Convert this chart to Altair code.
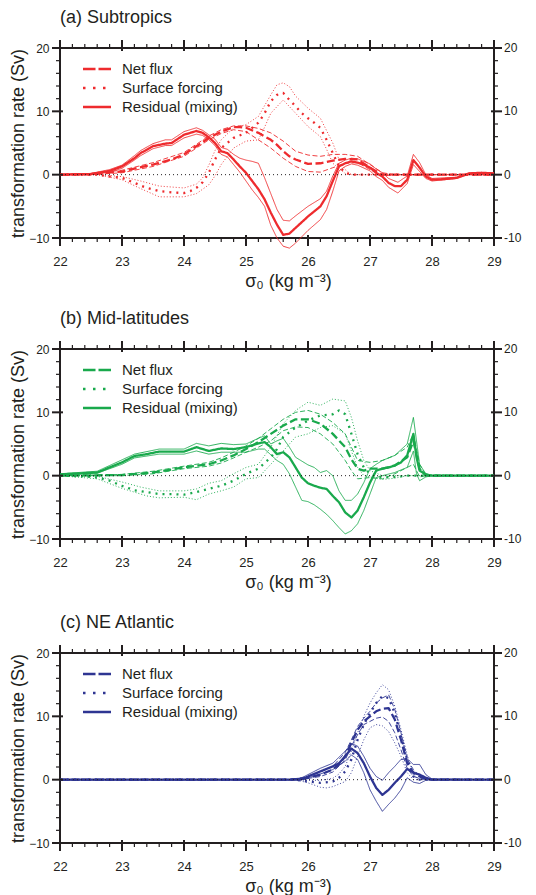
import altair as alt
import pandas as pd

FONT = "Liberation Sans"
INK = "#231f20"
W, H = 434, 190

X_MAJOR = [22, 23, 24, 25, 26, 27, 28, 29]
X_MINOR = [22.2, 22.4, 22.6, 22.8, 23.2, 23.4, 23.6, 23.8, 24.2, 24.4, 24.6, 24.8,
           25.2, 25.4, 25.6, 25.8, 26.2, 26.4, 26.6, 26.8, 27.2, 27.4, 27.6, 27.8,
           28.2, 28.4, 28.6, 28.8]
Y_MAJOR = [-10, 0, 10, 20]
Y_LABELS = ["-10", "0", "10", "20"]
Y_MINOR = [-8, -6, -4, -2, 2, 4, 6, 8, 12, 14, 16, 18]
LEGEND_LABELS = ["Net flux", "Surface forcing", "Residual (mixing)"]
TITLES = ["(a) Subtropics", "(b) Mid-latitudes", "(c) NE Atlantic"]
COLORS = ["#ee2b2e", "#19a94c", "#2e3592"]

# ---------- (a) Subtropics ----------
A_NET = [(22, 0), (22.5, 0.1), (23.0, 0.5), (23.5, 1.6), (23.8, 2.4), (24.0, 3.2), (24.2, 4.5),
         (24.4, 5.8), (24.6, 6.8), (24.8, 7.5), (24.9, 7.5), (25.0, 7.4), (25.2, 6.6), (25.4, 5.5),
         (25.5, 4.7), (25.6, 3.7), (25.7, 2.9), (25.8, 2.4), (26.0, 1.7), (26.2, 1.8), (26.4, 2.2),
         (26.6, 2.5), (26.8, 2.4), (27.0, 1.1), (27.2, 0.0), (29.0, 0.0)]
A_NET_HI = [(22, 0), (22.5, 0.2), (23.0, 0.7), (23.5, 1.9), (24.0, 3.5), (24.4, 6.1), (24.6, 7.1),
            (24.8, 7.7), (25.0, 7.7), (25.2, 7.3), (25.4, 6.6), (25.6, 5.3), (25.8, 3.7), (26.0, 3.1),
            (26.2, 2.9), (26.4, 3.2), (26.6, 3.2), (26.8, 2.9), (27.0, 1.6), (27.2, 0.3), (27.4, 0.0),
            (29.0, 0.0)]
A_NET_LO = [(22, 0), (22.5, 0.0), (23.0, 0.3), (23.5, 1.3), (24.0, 2.9), (24.4, 5.5), (24.6, 6.5),
            (24.8, 7.1), (25.0, 6.8), (25.2, 5.5), (25.4, 4.2), (25.6, 2.6), (25.8, 1.3), (26.0, 0.5),
            (26.2, 0.4), (26.4, 1.1), (26.6, 1.8), (26.8, 1.9), (27.0, 0.8), (27.2, -0.2), (27.4, 0.0),
            (29.0, 0.0)]
A_SURF = [(22, 0), (22.6, 0.0), (22.8, -0.3), (23.0, -0.5), (23.2, -1.3), (23.4, -2.1), (23.6, -2.6),
          (23.8, -2.8), (24.0, -2.9), (24.1, -2.6), (24.2, -2.1), (24.3, -1.2), (24.4, 0.3), (24.5, 2.4),
          (24.6, 4.2), (24.8, 5.8), (25.0, 6.6), (25.1, 7.4), (25.2, 8.2), (25.3, 9.7), (25.4, 11.6),
          (25.5, 12.6), (25.6, 12.9), (25.7, 11.8), (25.8, 10.8), (25.9, 9.7), (26.0, 8.9), (26.1, 8.2),
          (26.2, 7.4), (26.3, 5.5), (26.4, 3.4), (26.5, 1.3), (26.6, 0.3), (26.7, 0.0), (29.0, 0.0)]
A_SURF_HI = [(22, 0), (22.6, 0.0), (23.0, -0.3), (23.3, -1.0), (23.6, -1.8), (24.0, -2.1), (24.2, -1.5),
             (24.3, -0.5), (24.4, 1.5), (24.5, 3.8), (24.6, 5.5), (24.8, 7.4), (25.0, 7.9), (25.2, 9.2),
             (25.4, 12.6), (25.5, 14.2), (25.6, 14.5), (25.7, 13.9), (25.8, 12.4), (26.0, 10.5),
             (26.2, 8.9), (26.4, 5.0), (26.5, 2.4), (26.6, 0.8), (26.7, 0.0), (29.0, 0.0)]
A_SURF_LO = [(22, 0), (22.6, 0.0), (23.0, -0.8), (23.3, -2.2), (23.6, -3.5), (24.0, -3.5), (24.2, -3.0),
             (24.4, -1.6), (24.5, -0.2), (24.6, 1.6), (24.8, 4.2), (25.0, 5.3), (25.2, 5.5), (25.3, 7.5),
             (25.4, 9.7), (25.6, 11.8), (25.8, 9.7), (26.0, 7.6), (26.2, 6.0), (26.3, 4.0), (26.4, 1.8),
             (26.6, 0.2), (26.7, 0.0), (29.0, 0.0)]
A_RES = [(22, 0), (22.5, 0.1), (22.8, 0.6), (23.0, 1.3), (23.2, 2.6), (23.3, 3.4), (23.5, 4.5),
         (23.7, 4.9), (23.8, 5.0), (24.0, 6.3), (24.2, 6.9), (24.3, 6.6), (24.4, 5.9), (24.5, 5.0),
         (24.6, 3.7), (24.7, 3.4), (24.8, 2.4), (24.9, 1.3), (25.0, 0.3), (25.1, -1.0), (25.2, -2.3),
         (25.3, -3.9), (25.4, -6.0), (25.5, -7.9), (25.6, -9.5), (25.7, -9.3), (25.8, -8.4), (26.0, -6.6),
         (26.2, -5.0), (26.3, -3.4), (26.4, -1.0), (26.5, 1.3), (26.6, 1.8), (26.7, 2.1), (26.8, 1.9),
         (26.9, 1.6), (27.0, 1.1), (27.1, 0.3), (27.2, -0.3), (27.3, -1.3), (27.4, -1.8), (27.5, -1.8),
         (27.6, -0.8), (27.7, 2.3), (27.8, 1.1), (27.9, -0.3), (28.0, -0.8), (28.2, -0.7), (28.4, -0.5),
         (28.6, 0.2), (28.8, 0.3), (29.0, 0.2)]
A_RES_HI = [(22, 0), (22.5, 0.2), (22.8, 0.8), (23.0, 1.5), (23.2, 3.0), (23.3, 3.8), (23.5, 4.9),
            (23.7, 5.5), (23.8, 5.5), (24.0, 6.8), (24.2, 7.4), (24.3, 7.0), (24.4, 6.3), (24.5, 5.6),
            (24.6, 4.3), (24.7, 4.0), (24.8, 3.2), (24.9, 2.6), (25.0, 2.3), (25.1, 2.1), (25.2, 1.8),
            (25.3, -0.5), (25.4, -3.0), (25.5, -5.5), (25.6, -7.2), (25.7, -7.3), (25.8, -6.5),
            (26.0, -5.0), (26.2, -3.8), (26.3, -2.6), (26.4, -0.2), (26.5, 1.8), (26.6, 2.3), (26.7, 2.6),
            (26.8, 2.5), (27.0, 1.7), (27.1, 0.9), (27.2, 0.3), (27.3, -0.6), (27.45, -1.2), (27.6, -0.2),
            (27.7, 3.2), (27.8, 1.9), (27.9, 0.0), (28.0, -0.6), (28.4, -0.4), (28.6, 0.3), (29.0, 0.3)]
A_RES_LO = [(22, 0), (22.5, 0.0), (22.8, 0.4), (23.0, 1.0), (23.2, 2.3), (23.3, 3.0), (23.5, 4.1),
            (23.7, 4.6), (23.8, 4.6), (24.0, 5.8), (24.2, 6.4), (24.3, 6.2), (24.4, 5.5), (24.5, 4.6),
            (24.6, 3.2), (24.7, 2.8), (24.8, 1.6), (24.9, 0.4), (25.0, -1.0), (25.1, -2.4), (25.2, -3.6),
            (25.3, -5.0), (25.4, -8.0), (25.5, -10.0), (25.6, -11.3), (25.7, -11.6), (25.8, -10.8),
            (25.9, -9.8), (26.0, -8.8), (26.2, -7.1), (26.3, -5.5), (26.4, -2.6), (26.5, 0.6), (26.6, 1.3),
            (26.7, 1.7), (26.8, 1.5), (27.0, 0.6), (27.1, -0.3), (27.2, -0.9), (27.3, -2.0), (27.45, -2.9),
            (27.6, -1.4), (27.7, 1.6), (27.8, 0.5), (27.9, -0.6), (28.0, -1.0), (28.4, -0.6), (28.6, 0.1),
            (29.0, 0.1)]

# ---------- (b) Mid-latitudes ----------
B_NET = [(22, 0.0), (23.0, 0.1), (23.5, 0.5), (24.0, 1.3), (24.4, 1.8), (24.6, 2.4), (24.8, 3.2),
         (25.0, 4.2), (25.2, 5.3), (25.4, 6.6), (25.6, 7.9), (25.8, 8.9), (26.0, 8.9), (26.2, 8.2),
         (26.4, 6.6), (26.6, 4.5), (26.7, 2.6), (26.8, 1.1), (26.9, 0.8), (27.0, 1.1), (27.2, 1.1),
         (27.4, 1.6), (27.6, 2.9), (27.7, 5.5), (27.8, 1.1), (27.9, 0.0), (29.0, 0.0)]
B_NET_HI = [(22, 0.0), (23.0, 0.2), (23.5, 0.7), (24.0, 1.5), (24.4, 2.1), (24.6, 2.8), (24.8, 3.7),
            (25.0, 4.7), (25.2, 5.9), (25.4, 7.4), (25.6, 8.9), (25.8, 10.0), (26.0, 10.3), (26.2, 9.7),
            (26.4, 8.4), (26.6, 6.6), (26.7, 4.5), (26.8, 2.4), (27.0, 2.1), (27.2, 2.4), (27.4, 3.2),
            (27.6, 4.5), (27.7, 6.6), (27.8, 1.8), (27.9, 0.1), (29.0, 0.0)]
B_NET_LO = [(22, 0.0), (23.0, 0.0), (23.5, 0.3), (24.0, 1.1), (24.4, 1.5), (24.6, 2.0), (24.8, 2.8),
            (25.0, 3.7), (25.2, 4.5), (25.4, 5.5), (25.6, 7.1), (25.8, 7.7), (26.0, 7.6), (26.2, 6.6),
            (26.4, 5.0), (26.6, 2.4), (26.7, 0.8), (26.8, -0.5), (27.0, -0.3), (27.2, -0.5), (27.4, 0.3),
            (27.6, 1.3), (27.7, 1.8), (27.8, -0.2), (27.9, 0.0), (29.0, 0.0)]
B_SURF = [(22, 0.0), (22.4, -0.1), (22.6, -0.3), (22.8, -0.8), (23.0, -1.6), (23.2, -2.3), (23.4, -2.6),
          (23.6, -2.9), (23.8, -2.9), (24.0, -3.0), (24.2, -2.6), (24.4, -2.1), (24.6, -1.6), (24.8, -0.8),
          (25.0, 0.3), (25.2, 1.1), (25.4, 2.9), (25.5, 4.2), (25.6, 6.1), (25.8, 7.6), (26.0, 8.7),
          (26.2, 9.5), (26.4, 9.7), (26.5, 10.3), (26.6, 9.7), (26.7, 6.6), (26.8, 3.4), (26.9, 1.3),
          (27.0, 0.3), (27.2, -0.3), (27.4, -0.2), (27.6, 0.0), (29.0, 0.0)]
B_SURF_HI = [(22, 0.0), (22.6, -0.1), (23.0, -1.0), (23.3, -1.8), (23.6, -2.4), (24.0, -2.4), (24.2, -2.1),
             (24.4, -1.2), (24.6, -0.8), (24.8, 0.3), (25.0, 1.3), (25.2, 1.8), (25.4, 4.5), (25.6, 8.2),
             (25.8, 10.3), (26.0, 11.6), (26.2, 11.1), (26.4, 12.1), (26.6, 11.8), (26.7, 9.2), (26.8, 5.5),
             (26.9, 2.4), (27.0, 0.8), (27.2, 0.0), (29.0, 0.0)]
B_SURF_LO = [(22, 0.0), (22.6, -0.5), (23.0, -2.0), (23.4, -3.2), (23.6, -3.5), (24.0, -3.4), (24.2, -3.8),
             (24.4, -2.9), (24.6, -2.4), (24.8, -1.8), (25.0, -0.5), (25.2, -0.3), (25.4, 1.8), (25.6, 3.9),
             (25.8, 6.1), (26.0, 6.6), (26.2, 7.6), (26.4, 7.9), (26.6, 6.6), (26.7, 3.9), (26.8, 1.3),
             (26.9, 0.0), (27.2, -0.6), (27.4, -0.4), (27.6, 0.0), (29.0, 0.0)]
B_RES = [(22, 0.2), (22.6, 0.5), (22.8, 1.3), (23.0, 2.1), (23.2, 3.1), (23.4, 3.4), (23.6, 3.8),
         (24.0, 3.8), (24.2, 4.5), (24.4, 3.9), (24.6, 4.3), (24.8, 4.2), (25.0, 4.5), (25.2, 5.1),
         (25.3, 5.3), (25.4, 4.5), (25.5, 3.4), (25.6, 3.7), (25.7, 2.9), (25.8, 1.3), (25.9, -0.3),
         (26.0, -1.2), (26.1, -1.6), (26.2, -1.9), (26.3, -2.1), (26.4, -3.2), (26.5, -4.2), (26.6, -5.8),
         (26.7, -6.6), (26.8, -5.5), (26.9, -3.4), (27.0, -1.1), (27.1, 0.8), (27.2, 1.1), (27.3, 1.3),
         (27.4, 1.6), (27.5, 2.1), (27.6, 3.2), (27.7, 6.6), (27.75, 2.9), (27.8, 0.8), (27.9, 0.2),
         (28.0, 0.0), (29.0, 0.0)]
B_RES_HI = [(22, 0.3), (22.6, 0.7), (22.8, 1.6), (23.0, 2.5), (23.2, 3.4), (23.6, 4.2), (24.0, 4.2),
            (24.2, 5.1), (24.4, 4.7), (24.6, 5.1), (24.8, 4.9), (25.0, 5.0), (25.2, 5.9), (25.3, 6.3),
            (25.4, 5.0), (25.5, 5.5), (25.6, 5.9), (25.7, 4.5), (25.8, 2.9), (26.0, 1.7), (26.1, 1.3),
            (26.2, 0.5), (26.3, 0.8), (26.4, 0.0), (26.5, -2.4), (26.6, -3.9), (26.7, -3.9), (26.8, -2.9),
            (26.9, -1.1), (27.0, 1.1), (27.1, 1.8), (27.2, 2.4), (27.4, 3.2), (27.6, 5.0), (27.7, 9.2),
            (27.75, 5.5), (27.8, 1.8), (27.9, 0.3), (28.0, 0.0), (29.0, 0.0)]
B_RES_LO = [(22, 0.1), (22.6, 0.4), (22.8, 1.1), (23.0, 1.8), (23.2, 2.8), (23.6, 3.4), (24.0, 3.4),
            (24.2, 3.9), (24.4, 3.4), (24.6, 3.7), (24.8, 3.7), (25.0, 3.7), (25.2, 4.2), (25.3, 4.2),
            (25.4, 3.3), (25.5, 2.4), (25.6, 1.8), (25.7, 0.3), (25.8, -1.8), (25.9, -3.9), (26.0, -4.1),
            (26.1, -4.6), (26.2, -5.3), (26.3, -6.1), (26.4, -7.1), (26.5, -8.2), (26.6, -9.2), (26.7, -8.7),
            (26.8, -7.6), (26.9, -5.5), (27.0, -2.9), (27.1, -0.3), (27.2, 0.0), (27.4, 0.5), (27.6, 1.3),
            (27.7, 3.9), (27.75, 0.3), (27.8, -0.8), (27.9, -0.2), (28.0, 0.0), (29.0, 0.0)]

# ---------- (c) NE Atlantic ----------
C_NET = [(22, 0.0), (25.7, 0.0), (25.9, 0.1), (26.0, 0.3), (26.2, 0.8), (26.4, 1.6), (26.5, 2.4),
         (26.6, 3.7), (26.7, 5.8), (26.8, 7.9), (26.9, 9.2), (27.0, 10.0), (27.1, 10.8), (27.2, 11.2),
         (27.3, 11.3), (27.4, 9.5), (27.5, 6.3), (27.6, 2.6), (27.7, 1.1), (27.8, 0.5), (27.9, 0.1),
         (28.0, 0.0), (29.0, 0.0)]
C_NET_HI = [(22, 0.0), (25.7, 0.0), (26.0, 0.5), (26.2, 1.2), (26.4, 2.1), (26.6, 4.3), (26.7, 6.3),
            (26.8, 8.4), (26.9, 9.7), (27.0, 10.8), (27.1, 12.1), (27.2, 12.9), (27.3, 13.4), (27.4, 11.1),
            (27.5, 7.4), (27.6, 3.2), (27.7, 1.6), (27.8, 0.6), (28.0, 0.0), (29.0, 0.0)]
C_NET_LO = [(22, 0.0), (25.7, 0.0), (26.0, 0.2), (26.2, 0.5), (26.4, 1.2), (26.6, 3.1), (26.7, 5.3),
            (26.8, 7.1), (26.9, 8.7), (27.0, 9.2), (27.1, 9.7), (27.2, 9.9), (27.3, 9.2), (27.4, 7.4),
            (27.5, 4.7), (27.6, 1.8), (27.7, 0.5), (27.8, 0.2), (28.0, 0.0), (29.0, 0.0)]
C_SURF = [(22, 0.0), (25.8, 0.0), (26.0, -0.3), (26.2, -0.5), (26.4, -0.3), (26.5, 0.3), (26.6, 1.3),
          (26.7, 3.2), (26.8, 6.3), (26.9, 8.7), (27.0, 10.5), (27.1, 12.1), (27.2, 13.2), (27.3, 12.9),
          (27.4, 10.5), (27.5, 6.8), (27.6, 3.2), (27.7, 0.5), (27.8, 0.0), (29.0, 0.0)]
C_SURF_HI = [(22, 0.0), (25.8, 0.0), (26.0, -0.1), (26.2, -0.1), (26.4, 0.2), (26.5, 0.9), (26.6, 2.1),
             (26.7, 4.5), (26.8, 7.4), (26.9, 10.0), (27.0, 12.1), (27.1, 13.7), (27.2, 15.0), (27.3, 14.2),
             (27.4, 11.6), (27.5, 7.9), (27.6, 3.9), (27.7, 0.8), (27.8, 0.0), (29.0, 0.0)]
C_SURF_LO = [(22, 0.0), (25.8, 0.0), (26.0, -0.5), (26.2, -1.2), (26.3, -1.3), (26.4, -1.1), (26.6, -0.3),
             (26.7, 1.1), (26.8, 3.7), (26.9, 6.3), (27.0, 8.2), (27.1, 8.7), (27.2, 8.5), (27.3, 7.6),
             (27.4, 5.8), (27.5, 3.7), (27.6, 1.1), (27.7, 0.0), (29.0, 0.0)]
C_RES = [(22, 0.0), (25.7, 0.0), (25.9, 0.1), (26.0, 0.5), (26.2, 1.3), (26.4, 2.1), (26.5, 2.6),
         (26.6, 3.7), (26.7, 4.9), (26.8, 4.2), (26.9, 2.6), (27.0, 0.5), (27.1, -1.3), (27.2, -2.4),
         (27.3, -1.6), (27.4, -0.5), (27.5, 0.5), (27.6, 1.7), (27.7, 1.1), (27.8, 0.8), (27.9, 0.3),
         (28.0, 0.0), (29.0, 0.0)]
C_RES_HI = [(22, 0.0), (25.7, 0.0), (25.9, 0.3), (26.0, 0.8), (26.2, 1.8), (26.4, 2.6), (26.6, 4.5),
            (26.7, 5.7), (26.8, 5.3), (26.9, 3.7), (27.0, 1.8), (27.1, 0.5), (27.2, -0.1), (27.3, 1.1),
            (27.4, 2.1), (27.5, 3.2), (27.6, 3.3), (27.7, 2.4), (27.8, 2.4), (27.9, 0.8), (28.0, 0.1),
            (29.0, 0.0)]
C_RES_LO = [(22, 0.0), (25.7, 0.0), (25.9, 0.0), (26.0, 0.3), (26.2, 0.9), (26.4, 1.6), (26.6, 2.9),
            (26.7, 3.9), (26.8, 3.2), (26.9, 1.1), (27.0, -1.6), (27.1, -3.4), (27.2, -5.0), (27.3, -3.9),
            (27.4, -2.9), (27.5, -1.6), (27.6, 0.3), (27.7, -0.4), (27.8, -0.6), (27.9, -0.1), (28.0, 0.0),
            (29.0, 0.0)]

PANEL_DATA = [
    [A_NET, A_NET_HI, A_NET_LO, A_SURF, A_SURF_HI, A_SURF_LO, A_RES, A_RES_HI, A_RES_LO],
    [B_NET, B_NET_HI, B_NET_LO, B_SURF, B_SURF_HI, B_SURF_LO, B_RES, B_RES_HI, B_RES_LO],
    [C_NET, C_NET_HI, C_NET_LO, C_SURF, C_SURF_HI, C_SURF_LO, C_RES, C_RES_HI, C_RES_LO],
]
LINE_NAMES = ["net", "net_hi", "net_lo", "surf", "surf_hi", "surf_lo", "res", "res_hi", "res_lo"]
LINE_STYLES = ["net_c", "net_b", "net_b", "surf_c", "surf_b", "surf_b", "res_c", "res_b", "res_b"]

STYLE = {
    "net_c": dict(strokeWidth=2.3, strokeDash=[8, 3.5]),
    "net_b": dict(strokeWidth=0.9, strokeDash=[5, 2.5]),
    "surf_c": dict(strokeWidth=2.3, strokeDash=[2, 5]),
    "surf_b": dict(strokeWidth=0.9, strokeDash=[1, 2]),
    "res_c": dict(strokeWidth=2.3, strokeDash=[1, 0]),
    "res_b": dict(strokeWidth=0.9, strokeDash=[1, 0]),
}
LEGEND_DASH = [[12.5, 3], [2.5, 7.5], [1, 0]]

xscale = alt.Scale(domain=[22, 29], nice=False, zero=False)
yscale = alt.Scale(domain=[-10, 20], nice=False, zero=False)

X_AXIS = alt.Axis(
    values=X_MAJOR, format="d", title="σ₀  (kg m⁻³)", ticks=False, domain=False,
    grid=False, labelFontSize=13, labelPadding=17, labelFlush=False, labelColor=INK,
    titleFontSize=18, titleFontWeight="normal", titlePadding=4, titleColor=INK,
    titleX=228, titleAlign="center", labelFont=FONT, titleFont=FONT)
Y_AXIS = alt.Axis(
    values=Y_MAJOR, format="d", title="transformation rate (Sv)", ticks=False,
    domain=False, grid=False, labelFontSize=12, labelPadding=11, labelFlush=False,
    labelColor=INK, titleFontSize=18, titleFontWeight="normal", titlePadding=1,
    titleColor=INK, labelFont=FONT, titleFont=FONT)


def make_panel(title, color, series):
    rows = []
    for name, style, pts in zip(LINE_NAMES, LINE_STYLES, series):
        for x, y in pts:
            rows.append({"x": x, "y": y, "line": name, "style": style})
    df = pd.DataFrame(rows)

    layers = []
    for style in ["surf_b", "net_b", "res_b", "surf_c", "net_c", "res_c"]:
        sub = df[df["style"] == style]
        layers.append(
            alt.Chart(sub).mark_line(color=color, strokeCap="butt", strokeJoin="round", **STYLE[style])
            .encode(x=alt.X("x:Q", scale=xscale, axis=X_AXIS),
                    y=alt.Y("y:Q", scale=yscale, axis=Y_AXIS),
                    detail="line:N", order="x:Q")
        )
    # zero line
    layers.append(
        alt.Chart(pd.DataFrame({"y": [0]})).mark_rule(color=INK, strokeDash=[1, 3], strokeWidth=1)
        .encode(y=alt.Y("y:Q", scale=yscale, axis=Y_AXIS))
    )

    # ticks
    xmaj = pd.DataFrame({"x": X_MAJOR})
    xmin = pd.DataFrame({"x": X_MINOR})
    ymaj = pd.DataFrame({"y": Y_MAJOR, "lab": Y_LABELS})
    ymin = pd.DataFrame({"y": Y_MINOR})
    xs = alt.X("x:Q", scale=xscale, axis=X_AXIS)
    ys = alt.Y("y:Q", scale=yscale, axis=Y_AXIS)
    layers += [
        alt.Chart(xmaj).mark_rule(color=INK, strokeWidth=2).encode(x=xs, y=alt.value(H - 3), y2=alt.value(H + 8)),
        alt.Chart(xmaj).mark_rule(color=INK, strokeWidth=2).encode(x=xs, y=alt.value(-8), y2=alt.value(3)),
        alt.Chart(xmin).mark_rule(color=INK, strokeWidth=1.2).encode(x=xs, y=alt.value(H), y2=alt.value(H + 4)),
        alt.Chart(xmin).mark_rule(color=INK, strokeWidth=1.2).encode(x=xs, y=alt.value(-4), y2=alt.value(0)),
        alt.Chart(ymaj).mark_rule(color=INK, strokeWidth=2).encode(y=ys, x=alt.value(-8), x2=alt.value(3)),
        alt.Chart(ymaj).mark_rule(color=INK, strokeWidth=2).encode(y=ys, x=alt.value(W - 3), x2=alt.value(W + 8)),
        alt.Chart(ymin).mark_rule(color=INK, strokeWidth=1.2).encode(y=ys, x=alt.value(-4), x2=alt.value(0)),
        alt.Chart(ymin).mark_rule(color=INK, strokeWidth=1.2).encode(y=ys, x=alt.value(W), x2=alt.value(W + 4)),
    ]
    # right-hand labels
    layers.append(
        alt.Chart(ymaj)
        .mark_text(align="left", baseline="middle", fontSize=12, font=FONT, color=INK)
        .encode(y=ys, x=alt.value(W + 10), text="lab:N")
    )
    # legend
    for i, lab in enumerate(LEGEND_LABELS):
        ly = 21 + 19 * i
        ldf = pd.DataFrame({"lab": [lab]})
        layers.append(
            alt.Chart(ldf).mark_rule(color=color, strokeWidth=2.3, strokeDash=LEGEND_DASH[i], strokeCap="butt")
            .encode(x=alt.value(23), x2=alt.value(51), y=alt.value(ly))
        )
        layers.append(
            alt.Chart(ldf).mark_text(align="left", baseline="middle", fontSize=15, font=FONT, color=INK)
            .encode(x=alt.value(62), y=alt.value(ly), text="lab:N")
        )

    return alt.layer(*layers).properties(
        width=W, height=H,
        title=alt.TitleParams(title, anchor="start", frame="group", fontSize=18, fontWeight="normal",
                              font=FONT, color=INK, offset=12),
    )


panels = [make_panel(t, c, s) for t, c, s in zip(TITLES, COLORS, PANEL_DATA)]

chart = (
    alt.vconcat(alt.vconcat(panels[0], panels[1], spacing=18), panels[2], spacing=21)
    .properties(padding={"left": 0, "top": 0, "right": 5, "bottom": 5})
    .configure(font=FONT)
    .configure_view(stroke=INK, strokeWidth=2)
)

chart.save("out.html", embed_options={"renderer": "svg", "actions": False})
